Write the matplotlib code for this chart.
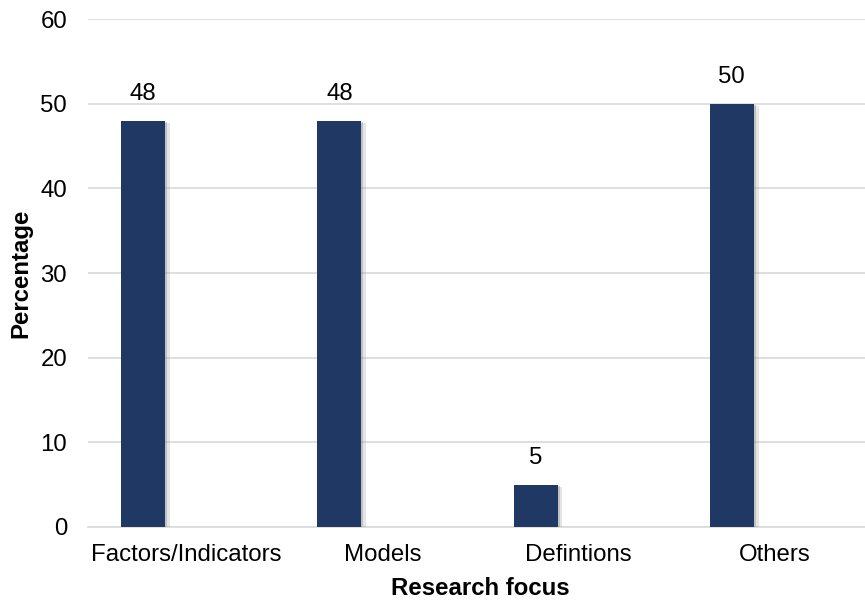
import numpy as np
import matplotlib.pyplot as plt
import matplotlib.patheffects as pe

plt.rcParams['font.family'] = ['Liberation Sans', 'DejaVu Sans']

categories = ['Factors/Indicators', 'Models', 'Defintions', 'Others']
percentages = [48, 48, 5, 50]

bar_color = '#203864'
grid_color = '#D9D9D9'
fs = 17.3

fig = plt.figure(figsize=(8.65, 6.02), dpi=100)
ax = fig.add_axes([0.1017, 0.1246, 0.9075, 0.8438])

x = np.arange(len(categories))
bars = ax.bar(x - 0.219, percentages, width=0.224, color=bar_color, zorder=3)
# soft drop shadow, built from a couple of offset layers
for b in bars:
    b.set_path_effects([pe.SimplePatchShadow(offset=(3.5, -2), shadow_rgbFace='#9a9a9a', alpha=0.25),
                        pe.SimplePatchShadow(offset=(1.5, -1), shadow_rgbFace='#7f7f7f', alpha=0.35),
                        pe.Normal()])

for b, v in zip(bars, percentages):
    ax.annotate(str(v), (b.get_x() + b.get_width() / 2, v), xytext=(0, 11),
                textcoords='offset points', ha='center', va='bottom', fontsize=fs)

ax.set_xlim(-0.5, len(categories) - 0.5)
ax.set_ylim(0, 60)
ax.set_yticks(range(0, 61, 10))
ax.set_xticks(x)
ax.set_xticklabels(categories)
ax.tick_params(axis='both', length=0, labelsize=fs, colors='black')
ax.tick_params(axis='y', pad=15)
ax.tick_params(axis='x', pad=12)

ax.grid(axis='y', color=grid_color, linewidth=1.2, zorder=0)
for s in ['top', 'right', 'left']:
    ax.spines[s].set_visible(False)
ax.spines['bottom'].set_color(grid_color)
ax.spines['bottom'].set_linewidth(1.2)

ax.set_xlabel('Research focus', fontsize=fs, fontweight='bold')
ax.set_ylabel('Percentage', fontsize=fs, fontweight='bold')
ax.xaxis.set_label_coords(0.5, -0.099)
ax.yaxis.set_label_coords(-0.071, 0.5)

fig.savefig('out.png', dpi=100)
